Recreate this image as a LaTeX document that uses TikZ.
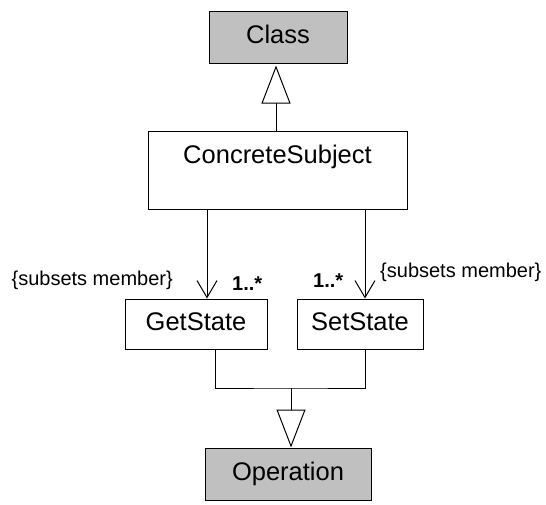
\documentclass[tikz,border=0pt]{standalone}
\usepackage{fontspec}
\setmainfont{Liberation Sans}
\usetikzlibrary{arrows.meta}
\definecolor{boxgray}{HTML}{C0C0C0}
\tikzset{
  x=1pt, y=-1pt,
  box/.style={draw=black, line width=1pt, inner sep=0pt, text height=12pt, text depth=0pt, font=\fontsize{25.5}{30}\selectfont},
  graybox/.style={box, fill=boxgray},
  lbl/.style={inner sep=0pt, font=\fontsize{20}{24}\selectfont},
  mult/.style={inner sep=0pt, font=\fontsize{20}{24}\selectfont\bfseries},
  gen/.style={line width=1pt, -{Triangle[open,length=38pt,width=29pt,fill=white]}},
  assoc/.style={line width=1pt, -{Straight Barb[length=17pt,width=20pt]}},
  conn/.style={line width=1pt}
}
\begin{document}
\begin{tikzpicture}
\useasboundingbox (0,0) rectangle (546,504);
\node[graybox, minimum width=138pt, minimum height=52pt] (class) at (278,37) {Class};
\node[box, minimum width=259pt, minimum height=78pt] (cs) at (277.5,170) {};
\node[inner sep=0pt, anchor=base, font=\fontsize{25.5}{30}\selectfont] (cstext) at (277.5,163) {ConcreteSubject};
\node[box, minimum width=142pt, minimum height=50pt] (gs) at (196,324) {GetState};
\node[box, minimum width=126pt, minimum height=50pt] (ss) at (360,324) {SetState};
\node[graybox, minimum width=166pt, minimum height=52pt] (op) at (288,474) {Operation};

\draw[gen, shorten >=2pt] ([xshift=-1.5pt]cs.north) -- ([xshift=-2pt]class.south);

\coordinate (gsin) at ([xshift=11pt]gs.north);
\coordinate (ssin) at ([xshift=5pt]ss.north);
\draw[assoc] (gsin |- cs.south) -- (gsin);
\draw[assoc] (ssin |- cs.south) -- (ssin);

\coordinate (gsout) at ([xshift=19pt]gs.south);
\coordinate (ssout) at ([xshift=5pt]ss.south);
\coordinate (opin) at ([xshift=3pt]op.north);
\coordinate (jn) at (291,388);
\draw[conn] (gsout) |- (jn) -| (ssout);
\draw[gen] (jn) -- (opin);

\node[lbl, anchor=base east] (lblL) at (173,285) {\{subsets member\}};
\node[mult, anchor=base west] (multL) at (232,290) {1..*};
\node[mult, anchor=base west] (multR) at (313,287) {1..*};
\node[lbl, anchor=base west] (lblR) at (380,277) {\{subsets member\}};
\end{tikzpicture}
\end{document}
